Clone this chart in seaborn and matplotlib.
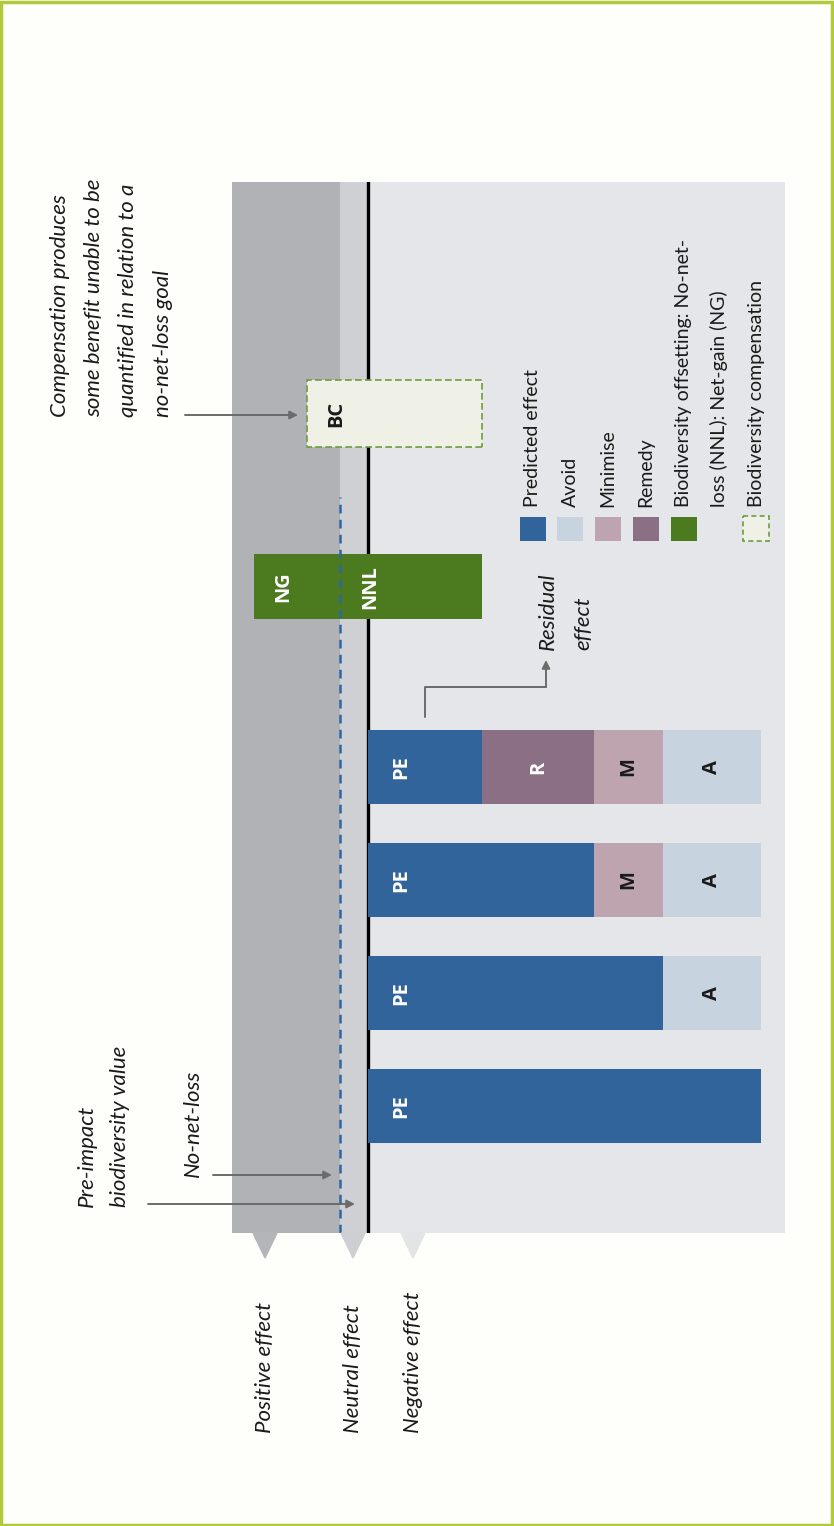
import numpy as np
import pandas as pd
import seaborn as sns
import matplotlib.pyplot as plt
import matplotlib.transforms as mtransforms
from matplotlib.patches import Rectangle, Polygon
from matplotlib.lines import Line2D

# mitigation hierarchy, in effect units (loss drawn as negative)
scenarios = ["Predicted", "Avoid", "Minimise", "Remedy"]
predicted_effect = 10.0
avoid = 2.5
minimise = 1.75
remedy = 2.85
residual = predicted_effect - avoid - minimise - remedy
offset_nnl = residual
offset_ng = 2.9
compensation_gain = 1.55
nnl_margin = 0.7

step_values = [("Avoid", avoid), ("Minimise", minimise), ("Remedy", remedy)]
seg_short = {"Avoid": "A", "Minimise": "M", "Remedy": "R", "PE": "PE"}
colors = {"PE": "#31649a", "Avoid": "#c8d3e0", "Minimise": "#bda4ae",
          "Remedy": "#8b6f84"}
green = "#4b7a1f"

legend_labels = ["Predicted effect", "Avoid", "Minimise", "Remedy",
                 "Biodiversity offsetting: No-net-", "loss (NNL): Net-gain (NG)",
                 "Biodiversity compensation"]

W, H = 834, 1526

# one row per visible segment: where it ends, where it starts
rows = []
for i, name in enumerate(scenarios):
    end = predicted_effect
    for step, val in step_values[:i]:
        rows.append((name, step, -end, -(end - val)))
        end -= val
    rows.append((name, "PE", -end, 0.0))
df = pd.DataFrame(rows, columns=["scenario", "stage", "end", "start"])

sns.set_theme(style="white")
plt.rcParams['font.family'] = ['Lato', 'DejaVu Sans']

fig = plt.figure(figsize=(W / 100, H / 100), dpi=100, facecolor="#fefefa")
pix = mtransforms.Affine2D().scale(1 / W, -1 / H).translate(0, 1) + fig.transFigure


def note(xs, y, lines, size=16, style="italic"):
    """Rotated text, one line per x position, all starting at y (pixels)."""
    for x, line in zip(xs, lines):
        fig.text(x, y, line, transform=pix, rotation=90, ha="center", va="bottom",
                 fontsize=size, style=style, color="#1a1a1a")


ax = fig.add_axes([232 / W, 1 - 1233 / H, 553 / W, 1051 / H])
ax.set_facecolor("#e4e6e9")

for stage in ["Avoid", "Minimise", "Remedy", "PE"]:
    sub = df[df["stage"] == stage]
    sns.barplot(data=sub, x="end", y="scenario", order=scenarios, orient="h",
                color=colors[stage], saturation=1, width=0.65, errorbar=None,
                ax=ax, zorder=3, edgecolor="none", linewidth=0)

x_left, x_right = 3.45, -10.6
ax.set_xlim(x_left, x_right)
ax.set_ylim(-1.124, 8.177)

# effect zones
ax.axvspan(nnl_margin, x_left, color="#b0b2b5", zorder=0, lw=0)
ax.axvspan(0, nnl_margin, color="#ced0d3", zorder=0, lw=0)
ax.axvline(0, color="black", lw=2.4, zorder=1)
ax.vlines(nnl_margin, -1.124, 5.39, colors="#2f67a4", lw=1.8,
          linestyles=(0, (3.5, 2.5)), zorder=5)

# offset and compensation
lab_kw = dict(rotation=90, ha="center", va="center", fontsize=14.5,
              fontweight="bold", family="Open Sans", zorder=6)
ax.barh(4.593, offset_nnl + offset_ng, left=-offset_nnl, height=0.575,
        color=green, edgecolor="none", lw=0, zorder=4)
ax.text(2.16, 4.593, "NG", color="white", **lab_kw)
ax.text(-0.05, 4.593, "NNL", color="white", **lab_kw)
ax.barh(6.124, residual + compensation_gain, left=-residual, height=0.593,
        facecolor="#eff0e6", edgecolor="#6e9b3d", lw=1.2, linestyle=(0, (4, 2)),
        zorder=4)
ax.text(0.79, 6.124, "BC", color="#1a1a1a", **lab_kw)

# segment labels
pos = {s: i for i, s in enumerate(scenarios)}
for _, r in df.iterrows():
    lab = seg_short[r["stage"]]
    x = -0.85 if lab == "PE" else (r["start"] + r["end"]) / 2
    tc = "white" if lab in ("PE", "R") else "#1a1a1a"
    ax.text(x, pos[r["scenario"]], lab, color=tc, **lab_kw)

ax.set_xlabel("")
ax.set_ylabel("")
ax.set_xticks([])
ax.set_yticks([])
for sp in ax.spines.values():
    sp.set_visible(False)

# zone markers and captions
for xc, c, lab in [(265, "#b3b5b8", "Positive effect"),
                   (353, "#cdcfd2", "Neutral effect"),
                   (413, "#e2e4e6", "Negative effect")]:
    fig.patches.append(Polygon([(xc - 12, 1233), (xc + 12, 1233), (xc, 1258)],
                               closed=True, transform=pix, color=c))
    note([xc], 1433, [lab])

arrow = dict(arrowstyle="-|>", color="#6b6b6b", lw=1.4, mutation_scale=12,
             shrinkA=0, shrinkB=0)
note([87, 120], 1207, ["Pre-impact", "biodiversity value"])
ax.annotate("", xy=(355, 1204), xycoords=pix, xytext=(148, 1204), textcoords=pix,
            arrowprops=arrow, annotation_clip=False)
note([193], 1177, ["No-net-loss"])
ax.annotate("", xy=(332, 1175), xycoords=pix, xytext=(213, 1175), textcoords=pix,
            arrowprops=arrow, annotation_clip=False)

note([60, 94, 128, 163], 417,
     ["Compensation produces", "some benefit unable to be",
      "quantified in relation to a", "no-net-loss goal"])
ax.annotate("", xy=(298, 415), xycoords=pix, xytext=(185, 415), textcoords=pix,
            arrowprops=arrow, annotation_clip=False)

fig.lines.append(Line2D([425, 425, 546], [717, 687, 687], transform=pix,
                        color="#6b6b6b", lw=1.4))
ax.annotate("", xy=(546, 660), xycoords=pix, xytext=(546, 687), textcoords=pix,
            arrowprops=arrow, annotation_clip=False)
note([548, 583], 650, ["Residual", "effect"])

# legend
sq = [(533, colors["PE"]), (570, colors["Avoid"]), (608, colors["Minimise"]),
      (646, colors["Remedy"]), (684, green)]
for xc, c in sq:
    fig.patches.append(Rectangle((xc - 13, 517), 26, 24, transform=pix,
                                 facecolor=c, edgecolor="none"))
fig.patches.append(Rectangle((743, 516), 26, 25, transform=pix, facecolor="#eff0e6",
                             edgecolor="#6e9b3d", lw=1.2, linestyle=(0, (3, 2))))
note([533, 570, 608, 646, 684, 719, 757], 507, legend_labels, size=14,
     style="normal")

# outer frame
fig.patches.append(Rectangle((1.5, 1.5), W - 3, H - 3, transform=pix,
                             facecolor="none", edgecolor="#b3c93c", lw=2.5))

fig.savefig("out.png", dpi=100, facecolor=fig.get_facecolor())
